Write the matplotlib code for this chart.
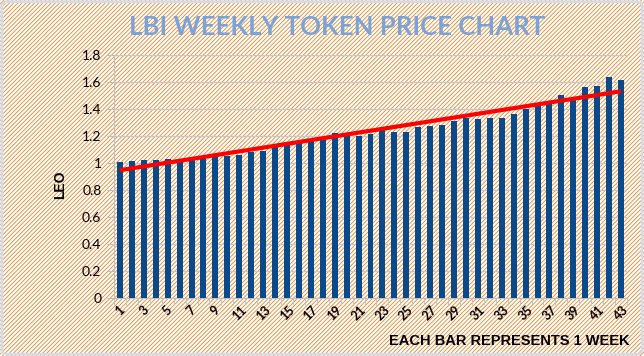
import numpy as np
import matplotlib.pyplot as plt
from matplotlib.patches import FancyBboxPatch, Rectangle

# Datos semanales
weeks = np.arange(1, 44)
prices = [1.007, 1.015, 1.022, 1.022, 1.030, 1.032, 1.040, 1.047, 1.067, 1.054,
          1.059, 1.079, 1.091, 1.116, 1.133, 1.146, 1.165, 1.175, 1.220, 1.205,
          1.200, 1.215, 1.244, 1.230, 1.230, 1.267, 1.274, 1.281, 1.311, 1.333,
          1.324, 1.333, 1.333, 1.363, 1.400, 1.425, 1.442, 1.504, 1.467, 1.563,
          1.570, 1.637, 1.615]
tick_weeks = weeks[::2]
y_ticks = [0, 0.2, 0.4, 0.6, 0.8, 1, 1.2, 1.4, 1.6, 1.8]
y_labels = ['0', '0.2', '0.4', '0.6', '0.8', '1', '1.2', '1.4', '1.6', '1.8']


def plot_chart():
    plt.rcParams['hatch.linewidth'] = 0.6

    fig = plt.figure(figsize=(6.44, 3.56), dpi=100)
    fig.patch.set_facecolor('white')

    # Fondo rayado (patron diagonal), el color del rayado sigue al borde
    bg = Rectangle((0, 0), 1, 1, transform=fig.transFigure, facecolor='white',
                   edgecolor='#E8862A', linewidth=0, hatch='////////', zorder=-10)
    fig.add_artist(bg)

    ax = fig.add_axes([114 / 644, 58 / 356, 513 / 644, 243 / 356])
    ax.set_facecolor('none')

    ax.bar(weeks, prices, width=0.5, color='#0A4A8A', zorder=3)

    # Linea de tendencia (ajuste lineal)
    b1, b0 = np.polyfit(weeks, prices, 1)
    ax.plot(weeks, b0 + b1 * weeks, color='#FF0000', lw=3, zorder=4,
            solid_capstyle='butt')

    ax.set_xlim(0.5, 43.5)
    ax.set_ylim(0, 1.8)
    ax.set_yticks(y_ticks)
    ax.set_yticklabels(y_labels, fontsize=10, family='Lato')
    ax.yaxis.grid(True, color='#C8C8C8', lw=1, zorder=0)

    ax.set_xticks(tick_weeks)
    ax.set_xticklabels([str(w) for w in tick_weeks], rotation=45, ha='center',
                       fontsize=9, fontweight='bold', family='Lato')
    ax.set_xticks(np.arange(0.5, 44, 1), minor=True)
    ax.tick_params(axis='x', which='major', length=0, pad=4)
    ax.tick_params(axis='x', which='minor', length=5, color='#C0C0C0')
    ax.tick_params(axis='y', length=5, color='#C0C0C0', pad=4)

    for s in ['top', 'right']:
        ax.spines[s].set_visible(False)
    for s in ['left', 'bottom']:
        ax.spines[s].set_color('#C0C0C0')

    fig.text(337 / 644, 1 - 27 / 356, 'LBI WEEKLY TOKEN PRICE CHART', ha='center',
             va='center', fontsize=18.5, fontweight='bold', color='#7BA3D6', family='Lato')
    fig.text(60 / 644, 1 - 185 / 356, 'LEO', rotation=90, ha='center', va='center',
             fontsize=10, fontweight='bold', family='Liberation Sans')
    fig.text(630 / 644, 1 - 341 / 356, 'EACH BAR REPRESENTS 1 WEEK', ha='right',
             va='center', fontsize=10.5, fontweight='bold', family='Liberation Sans')

    frame = FancyBboxPatch((0.003, 0.005), 0.994, 0.99,
                           boxstyle='round,pad=0,rounding_size=0.01',
                           transform=fig.transFigure, fill=False,
                           edgecolor='#D6DCE5', lw=2)
    fig.patches.append(frame)

    plt.savefig('out.png', dpi=100)


def main():
    plot_chart()


if __name__ == '__main__':
    main()
